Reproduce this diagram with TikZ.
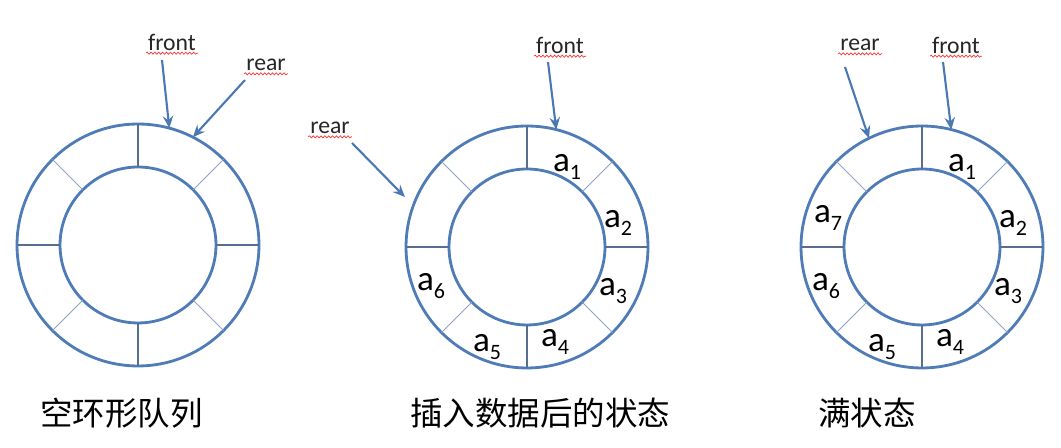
\documentclass[tikz,border=0pt]{standalone}
\usepackage{fontspec}
\setmainfont{Carlito}
\newfontfamily\cjk{Noto Sans CJK SC}
\usetikzlibrary{arrows.meta,decorations.pathmorphing}
\definecolor{ringblue}{RGB}{79,124,182}
\definecolor{spokeblue}{RGB}{88,110,145}
\definecolor{diagblue}{RGB}{145,163,192}
\definecolor{arrowblue}{RGB}{74,120,180}
\newcommand{\qring}[3]{%
  \node[ringout] (#1) at (#2,#3) {};
  \node[ringin] (#1i) at (#2,#3) {};
  \foreach \ang in {0,90,180,270} {\draw[spoke] (#1i.\ang) -- (#1.\ang);}
  \foreach \ang in {45,135,225,315} {\draw[diag] (#1i.\ang) -- (#1.\ang);}
}
\newcommand{\el}[1]{a\raisebox{-5pt}{\fontsize{12.5}{12.5}\selectfont #1}}

\begin{document}
\begin{tikzpicture}[
    x=0.02cm, y=0.02cm,
    ringout/.style={circle, draw=ringblue, line width=1.6pt, inner sep=0, outer sep=0, minimum size=4.84cm},
    ringin/.style={circle, draw=ringblue, line width=1.6pt, inner sep=0, outer sep=0, minimum size=3.12cm},
    spoke/.style={draw=spokeblue, line width=0.75pt},
    diag/.style={draw=diagblue, line width=0.5pt},
    ptr/.style={font=\fontsize{13.5}{13.5}\selectfont, text=black!85, inner sep=1pt},
    squig/.style={red!80, line width=0.4pt, decorate, decoration={snake, amplitude=0.6pt, segment length=2.2pt}},
    arr/.style={-{Stealth[length=7pt,width=6pt,inset=2.5pt]}, line width=1.2pt, arrowblue},
    elem/.style={font=\fontsize{20}{20}\selectfont, inner sep=0},
    captxt/.style={font=\cjk\fontsize{18.5}{18.5}\selectfont, anchor=west, inner sep=0}
]
\useasboundingbox (0,0) rectangle (1061,448);

\qring{r1}{138}{203}
\qring{r2}{527}{201}
\qring{r3}{922}{201}

% front / rear pointers
\node[ptr] (f1) at (172,406) {front};
\node[ptr] (e1) at (266,383) {rear};
\node[ptr] (f2) at (560,403) {front};
\node[ptr] (e2) at (330,320) {rear};
\node[ptr] (e3) at (860,403) {rear};
\node[ptr] (f3) at (956,403) {front};
\foreach \n in {f1,e1,f2,e2,f3,e3}
  \draw[squig] ([yshift=-1.8pt]\n.base west) -- ([yshift=-1.8pt]\n.base east);

\draw[arr] ([shift={(-10,-18)}]f1.center) -- (r1.75);
\draw[arr] ([shift={(-21,-15)}]e1.center) -- (r1.63);
\draw[arr] ([shift={(-12,-17)}]f2.center) -- (r2.76);
\draw[arr, shorten >=0.24cm] ([shift={(22,-15)}]e2.center) -- (r2.160);
\draw[arr] ([shift={(-15,-22)}]e3.center) -- (r3.116);
\draw[arr] ([shift={(-13,-17)}]f3.center) -- (r3.76);

% elements
\node[elem] (a21) at (567,281) {\el{1}};
\node[elem] (a22) at (618,225) {\el{2}};
\node[elem] (a23) at (613,157) {\el{3}};
\node[elem] (a24) at (555,106) {\el{4}};
\node[elem] (a25) at (487,101) {\el{5}};
\node[elem] (a26) at (431,162) {\el{6}};

\node[elem] (a31) at (962,281) {\el{1}};
\node[elem] (a32) at (1013,225) {\el{2}};
\node[elem] (a33) at (1008,157) {\el{3}};
\node[elem] (a34) at (950,106) {\el{4}};
\node[elem] (a35) at (882,101) {\el{5}};
\node[elem] (a36) at (826,162) {\el{6}};
\node[elem] (a37) at (828,230) {\el{7}};

% captions
\node[captxt] (c1) at (40,35)  {空环形队列};
\node[captxt] (c2) at (410,35) {插入数据后的状态};
\node[captxt] (c3) at (818,35) {满状态};
\end{tikzpicture}
\end{document}
